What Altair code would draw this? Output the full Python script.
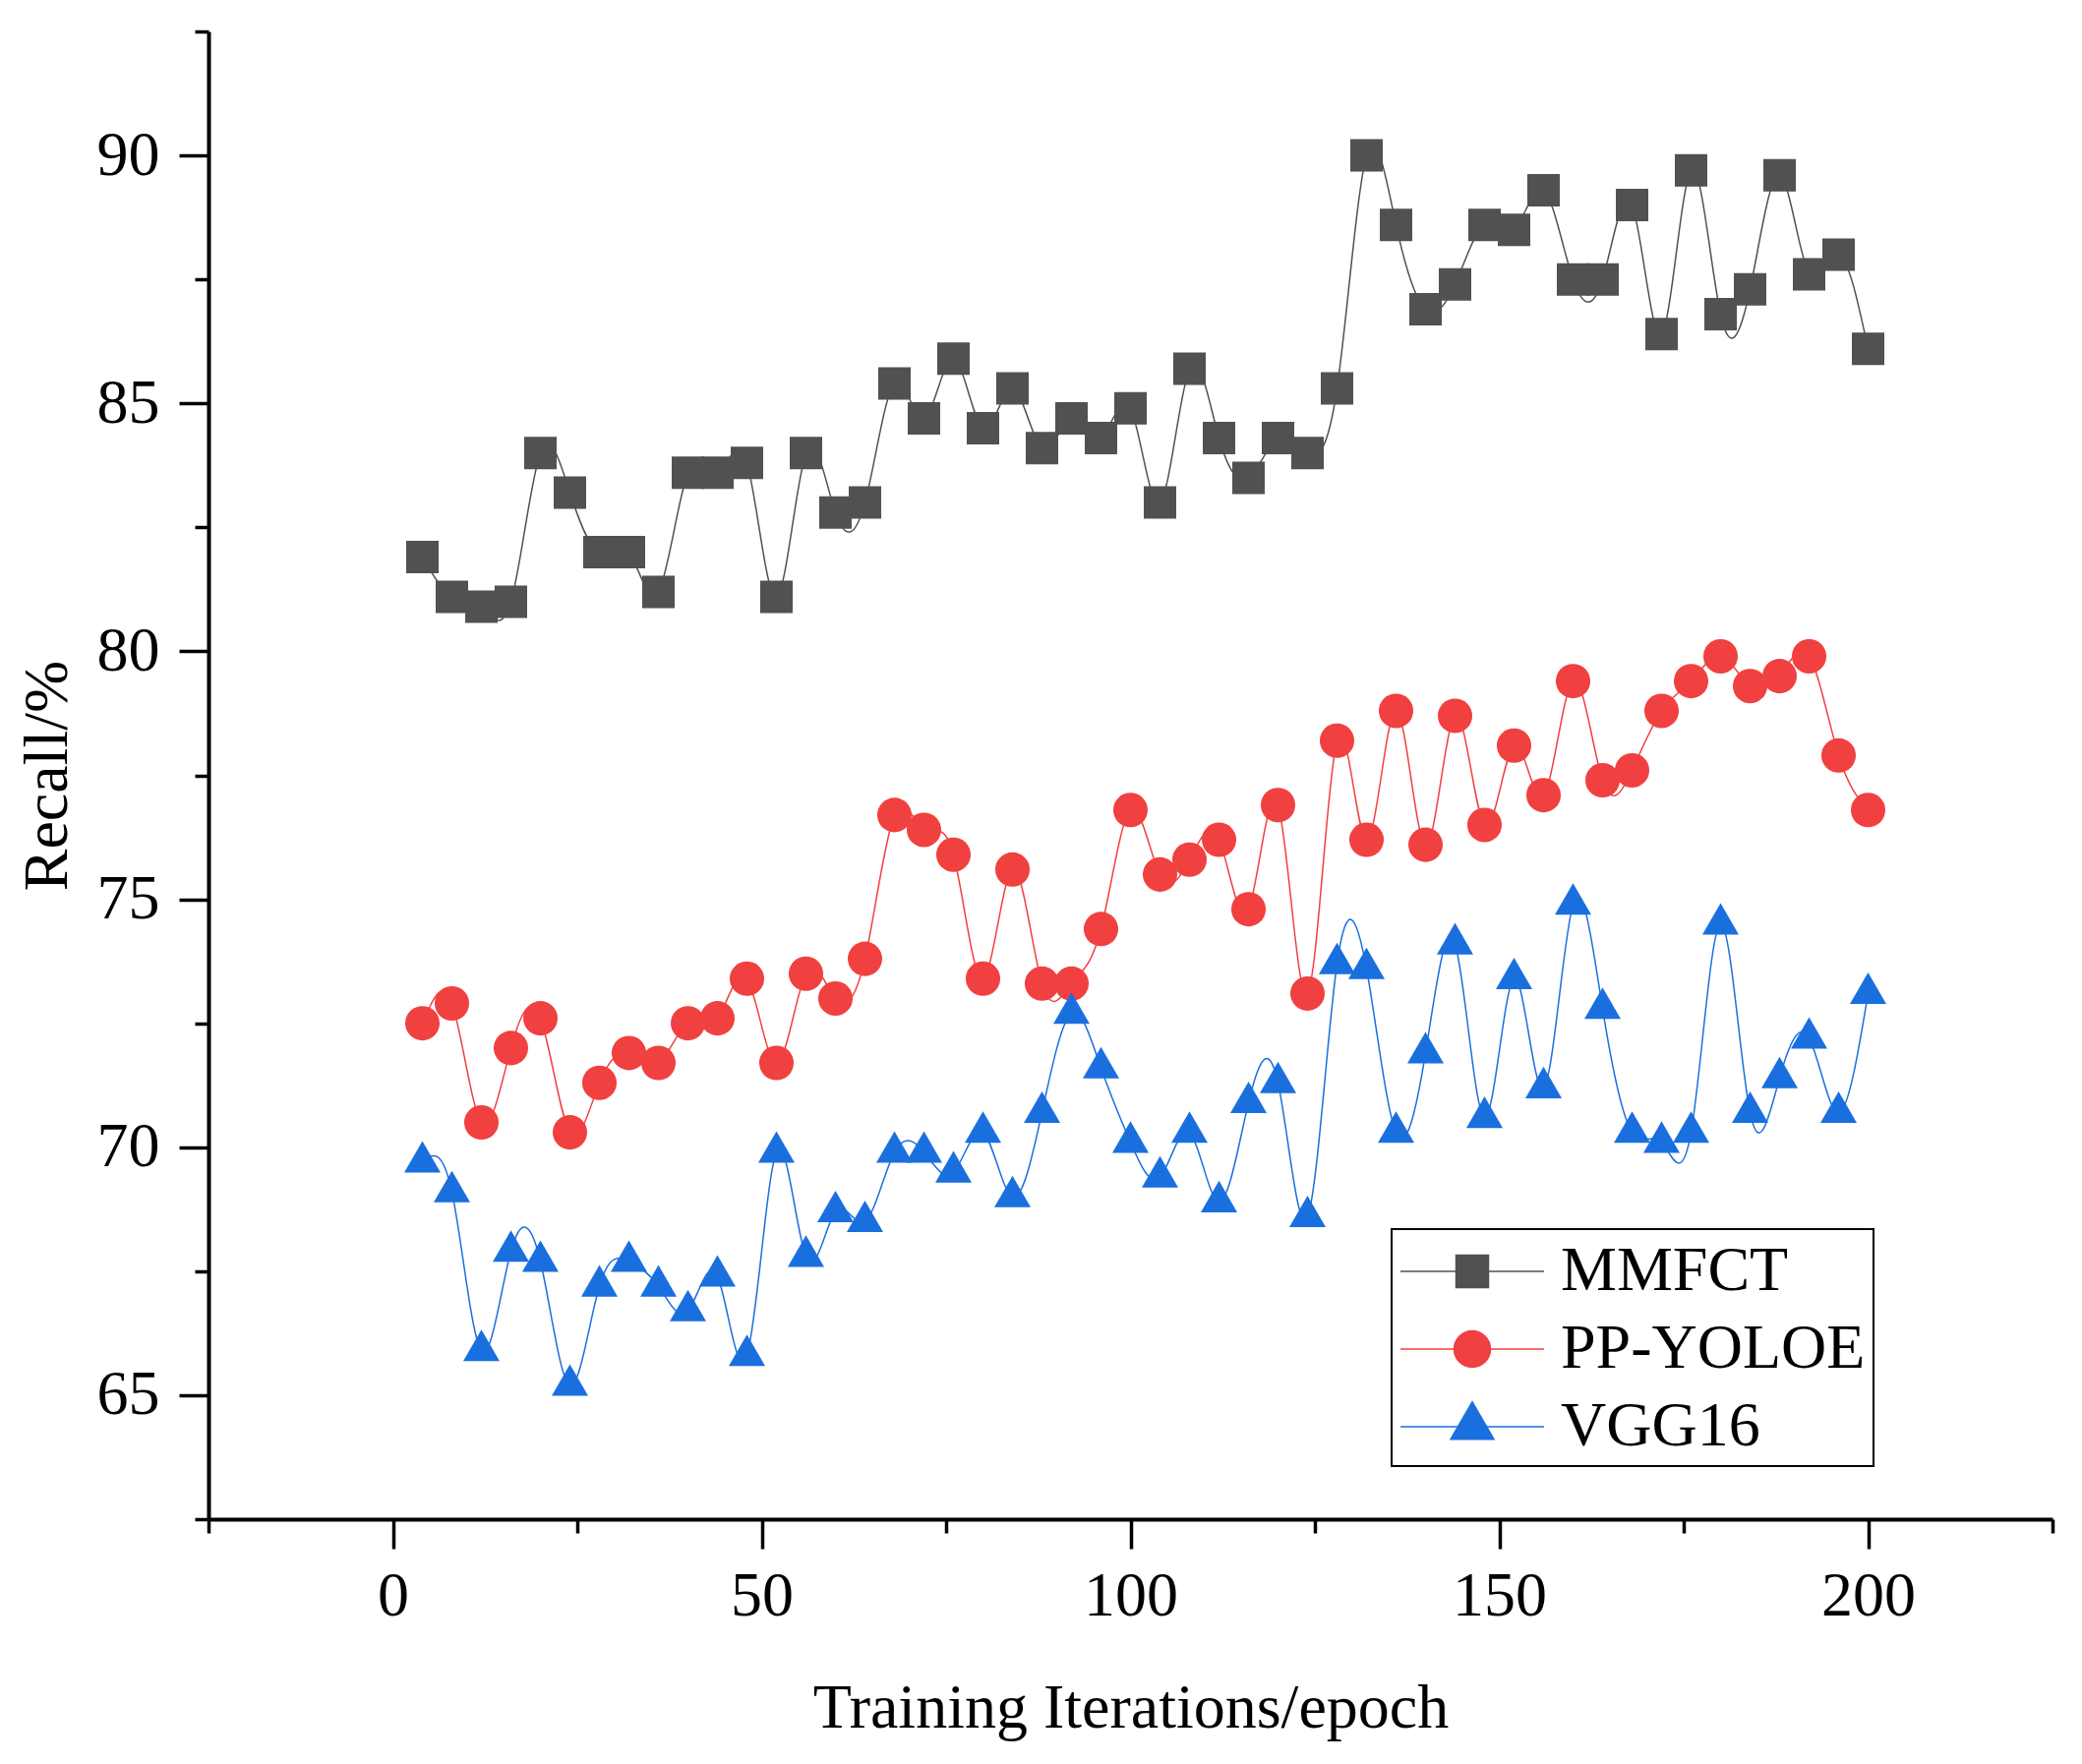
import altair as alt
import pandas as pd

# epochs sampled every 4 iterations
epochs = [4, 8, 12, 16, 20, 24, 28, 32, 36, 40,
          44, 48, 52, 56, 60, 64, 68, 72, 76, 80,
          84, 88, 92, 96, 100, 104, 108, 112, 116, 120,
          124, 128, 132, 136, 140, 144, 148, 152, 156, 160,
          164, 168, 172, 176, 180, 184, 188, 192, 196, 200]

mmfct = [81.9, 81.1, 80.9, 81.0, 84.0, 83.2, 82.0, 82.0, 81.2, 83.6,
         83.6, 83.8, 81.1, 84.0, 82.8, 83.0, 85.4, 84.7, 85.9, 84.5,
         85.3, 84.1, 84.7, 84.3, 84.9, 83.0, 85.7, 84.3, 83.5, 84.3,
         84.0, 85.3, 90.0, 88.6, 86.9, 87.4, 88.6, 88.5, 89.3, 87.5,
         87.5, 89.0, 86.4, 89.7, 86.8, 87.3, 89.6, 87.6, 88.0, 86.1]

pp_yoloe = [72.5, 72.9, 70.5, 72.0, 72.6, 70.3, 71.3, 71.9, 71.7, 72.5,
            72.6, 73.4, 71.7, 73.5, 73.0, 73.8, 76.7, 76.4, 75.9, 73.4,
            75.6, 73.3, 73.3, 74.4, 76.8, 75.5, 75.8, 76.2, 74.8, 76.9,
            73.1, 78.2, 76.2, 78.8, 76.1, 78.7, 76.5, 78.1, 77.1, 79.4,
            77.4, 77.6, 78.8, 79.4, 79.9, 79.3, 79.5, 79.9, 77.9, 76.8]

vgg16 = [69.7, 69.1, 65.9, 67.9, 67.7, 65.2, 67.2, 67.7, 67.2, 66.7,
         67.4, 65.8, 69.9, 67.8, 68.7, 68.5, 69.9, 69.9, 69.5, 70.3,
         69.0, 70.7, 72.7, 71.6, 70.1, 69.4, 70.3, 68.9, 70.9, 71.3,
         68.6, 73.7, 73.6, 70.3, 71.9, 74.1, 70.6, 73.4, 71.2, 74.9,
         72.8, 70.3, 70.1, 70.3, 74.5, 70.7, 71.4, 72.2, 70.7, 73.1]

models = ["MMFCT", "PP-YOLOE", "VGG16"]
colors = ["#515151", "#F14040", "#1A6FDF"]

x_ticks = [-25, 0, 25, 50, 75, 100, 125, 150, 175, 200, 225]
y_ticks = [62.5, 65, 67.5, 70, 72.5, 75, 77.5, 80, 82.5, 85, 87.5, 90, 92.5]

# marker shapes: triangle drawn around its centroid like Origin does
marker_shapes = ["square", "circle", "M0,-1.155L1,0.577L-1,0.577Z"]
marker_sizes = [1089, 1369, 1936]

# legend symbols: a short line with the marker in its middle
legend_symbols = [
    "M-1,0H3.294M0.662,-0.485H1.632V0.485H0.662Z",
    "M-1,0H3.294M0.603,0A0.544,0.544,0,1,0,1.691,0A0.544,0.544,0,1,0,0.603,0Z",
    "M-1,0H3.294M1.147,-0.745L1.794,0.373L0.5,0.373Z",
]

df = pd.DataFrame({
    "epoch": epochs * 3,
    "recall": mmfct + pp_yoloe + vgg16,
    "model": ["MMFCT"] * len(mmfct) + ["PP-YOLOE"] * len(pp_yoloe) + ["VGG16"] * len(vgg16),
})

FONT = "Liberation Serif"

x_axis = alt.Axis(
    values=x_ticks,
    labelExpr="datum.value % 50 === 0 ? datum.label : ''",
    tickSize={"condition": {"test": "datum.value % 50 === 0", "value": 30}, "value": 14},
    labelPadding=16,
    titlePadding=50,
    labelOverlap=False,
    labelFlush=False,
)
y_axis = alt.Axis(
    values=y_ticks,
    labelExpr="datum.value % 5 === 0 ? datum.label : ''",
    tickSize={"condition": {"test": "datum.value % 5 === 0", "value": 30}, "value": 14},
    labelPadding=20,
    titlePadding=18,
    labelOverlap=False,
    labelFlush=False,
)

x = alt.X("epoch:Q", title="Training Iterations/epoch",
          scale=alt.Scale(domain=[-25, 225], nice=False, zero=False), axis=x_axis)
y = alt.Y("recall:Q", title="Recall/%",
          scale=alt.Scale(domain=[62.5, 92.5], nice=False, zero=False), axis=y_axis)

color_scale = alt.Scale(domain=models, range=colors)

lines = alt.Chart(df).mark_line(interpolate="natural", strokeWidth=1.5).encode(
    x=x,
    y=y,
    color=alt.Color("model:N", scale=color_scale, legend=None),
)

points = alt.Chart(df).mark_point(filled=True, opacity=1, strokeWidth=0).encode(
    x=x,
    y=y,
    color=alt.Color("model:N", scale=color_scale, legend=None),
    shape=alt.Shape("model:N", scale=alt.Scale(domain=models, range=marker_shapes), legend=None),
    size=alt.Size("model:N", scale=alt.Scale(domain=models, range=marker_sizes), legend=None),
)

series_color = alt.ExprRef("scale('color', datum.value)")

leg = alt.Legend(
    title=None,
    orient="none",
    legendX=1203,
    legendY=1218,
    symbolSize=4624,
    symbolStrokeWidth=1.5,
    symbolOpacity=1,
    symbolFillColor=series_color,
    symbolStrokeColor=series_color,
    labelFont=FONT,
    labelFontSize=64,
    labelColor="black",
    labelOffset=94,
    labelLimit=0,
    rowPadding=12,
    padding=8,
    strokeColor="black",
)

legend_layer = alt.Chart(df).transform_filter("false").mark_point(filled=True).encode(
    color=alt.Color("model:N", scale=color_scale, legend=None),
    shape=alt.Shape("model:N", scale=alt.Scale(domain=models, range=legend_symbols), legend=leg),
)

chart = (
    alt.layer(lines, points, legend_layer)
    .resolve_scale(shape="independent")
    .properties(
        width=1875,
        height=1513,
        autosize=alt.AutoSizeParams(type="none"),
        padding={"left": 204, "top": 24, "right": 22, "bottom": 241},
        background="white",
    )
    .configure_view(stroke=None)
    .configure_axis(
        grid=False,
        domainColor="black",
        domainWidth=4,
        tickColor="black",
        tickWidth=3.5,
        labelFont=FONT,
        labelFontSize=64,
        labelColor="black",
        titleFont=FONT,
        titleFontSize=64,
        titleFontWeight="normal",
        titleColor="black",
    )
    .configure_legend(strokeWidth=2)
)

chart.save("out.html", embed_options={"renderer": "svg", "actions": False})
